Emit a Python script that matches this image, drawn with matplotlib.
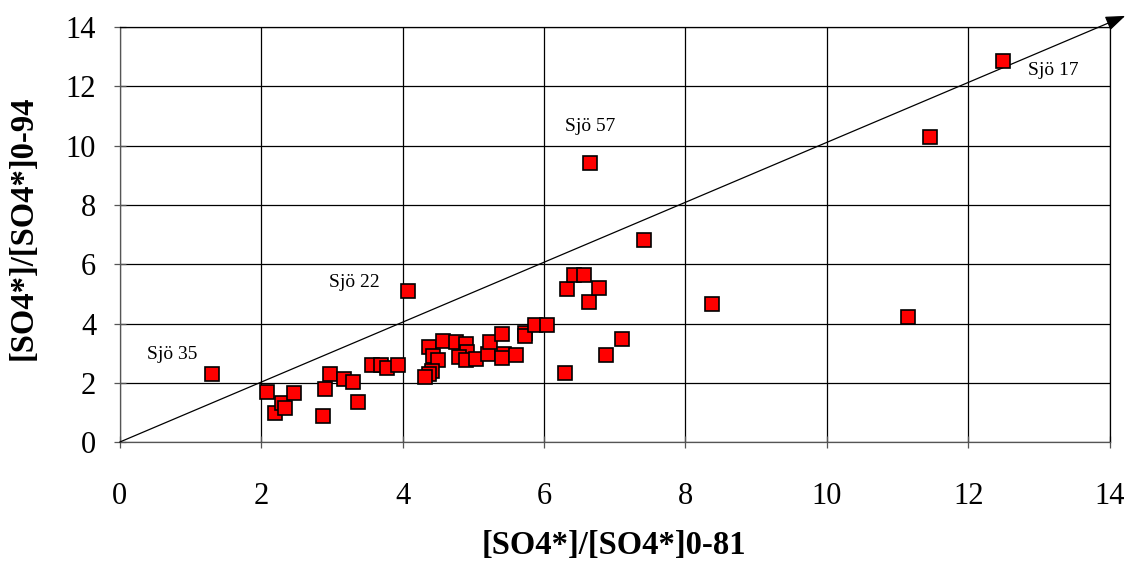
import matplotlib
matplotlib.use("Agg")
import matplotlib.pyplot as plt

# ratio 1981 vs ratio 1994
x81 = [1.30, 4.08, 2.08, 2.19, 2.30, 2.33, 2.47, 2.88, 2.90, 2.97, 3.17, 3.30,
       3.37, 3.57, 3.70, 3.78, 3.94, 4.37, 4.43, 4.50, 4.41, 4.37, 4.32, 4.57,
       4.75, 4.90, 4.91, 4.80, 4.89, 5.04, 5.21, 5.24, 5.41, 5.44, 5.41, 5.60,
       5.73, 5.73, 5.87, 6.04, 6.29, 6.33, 6.42, 6.57, 6.64, 6.78, 6.87, 7.10,
       8.37, 6.65, 7.41, 11.15, 11.46, 12.49]
y94 = [2.29, 5.10, 1.70, 0.99, 1.33, 1.15, 1.64, 0.89, 1.79, 2.29, 2.13, 2.03,
       1.36, 2.60, 2.60, 2.50, 2.61, 3.20, 2.92, 2.77, 2.41, 2.30, 2.19, 3.42,
       3.38, 3.30, 3.05, 2.88, 2.77, 2.81, 2.98, 3.38, 3.64, 2.97, 2.83, 2.93,
       3.69, 3.58, 3.96, 3.96, 2.33, 5.16, 5.64, 5.64, 4.72, 5.21, 2.93, 3.47,
       4.66, 9.43, 6.82, 4.22, 10.30, 12.87]

labels = ["Sjö 35", "Sjö 22", "Sjö 57", "Sjö 17"]
label_xy = [(0.74, 2.97), (3.32, 5.37), (6.65, 10.64), (13.2, 12.53)]

ticks = [0, 2, 4, 6, 8, 10, 12, 14]

plt.rcParams['font.family'] = ['Liberation Serif', 'DejaVu Serif']

fig = plt.figure(figsize=(11.3, 5.66), dpi=100)
ax = fig.add_axes([0.106, 0.219, 0.876, 0.733])

ax.set_xlim(0, 14)
ax.set_ylim(0, 14)
ax.set_xticks(ticks)
ax.set_yticks(ticks)
ax.grid(True, color='black', lw=0.9)
ax.set_axisbelow(True)
for s in ax.spines.values():
    s.set_color('black')
    s.set_linewidth(0.9)
ax.spines['left'].set_color('#555555')
ax.spines['bottom'].set_color('#555555')
ax.tick_params(direction='inout', length=8, width=0.9, labelsize=22,
               color='#555555')
ax.tick_params(axis='x', pad=25)
ax.tick_params(axis='y', pad=13)

# 1:1 line with arrow running past the frame
ax.annotate('', xy=(14.22, 14.38), xytext=(0, 0),
            xycoords='data', textcoords='data', annotation_clip=False,
            arrowprops=dict(arrowstyle='-|>,head_length=1.2,head_width=0.45',
                            color='black', lw=0.9, shrinkA=0, shrinkB=0))

ax.plot(x81, y94, 's', color='red', markeredgecolor='black',
        markeredgewidth=1.2, markersize=10, zorder=5, clip_on=False)

for t, (lx, ly) in zip(labels, label_xy):
    ax.text(lx, ly, t, fontsize=14, ha='center', va='center')

ax.set_xlabel('[SO4*]/[SO4*]0-81', fontsize=23.5, fontweight='bold',
              va='center', ha='center')
ax.set_ylabel('[SO4*]/[SO4*]0-94', fontsize=23.5, fontweight='bold',
              va='center', ha='center')
ax.xaxis.set_label_coords(0.499, -0.25)
ax.yaxis.set_label_coords(-0.098, 0.516)

fig.savefig('out.png', dpi=100)
